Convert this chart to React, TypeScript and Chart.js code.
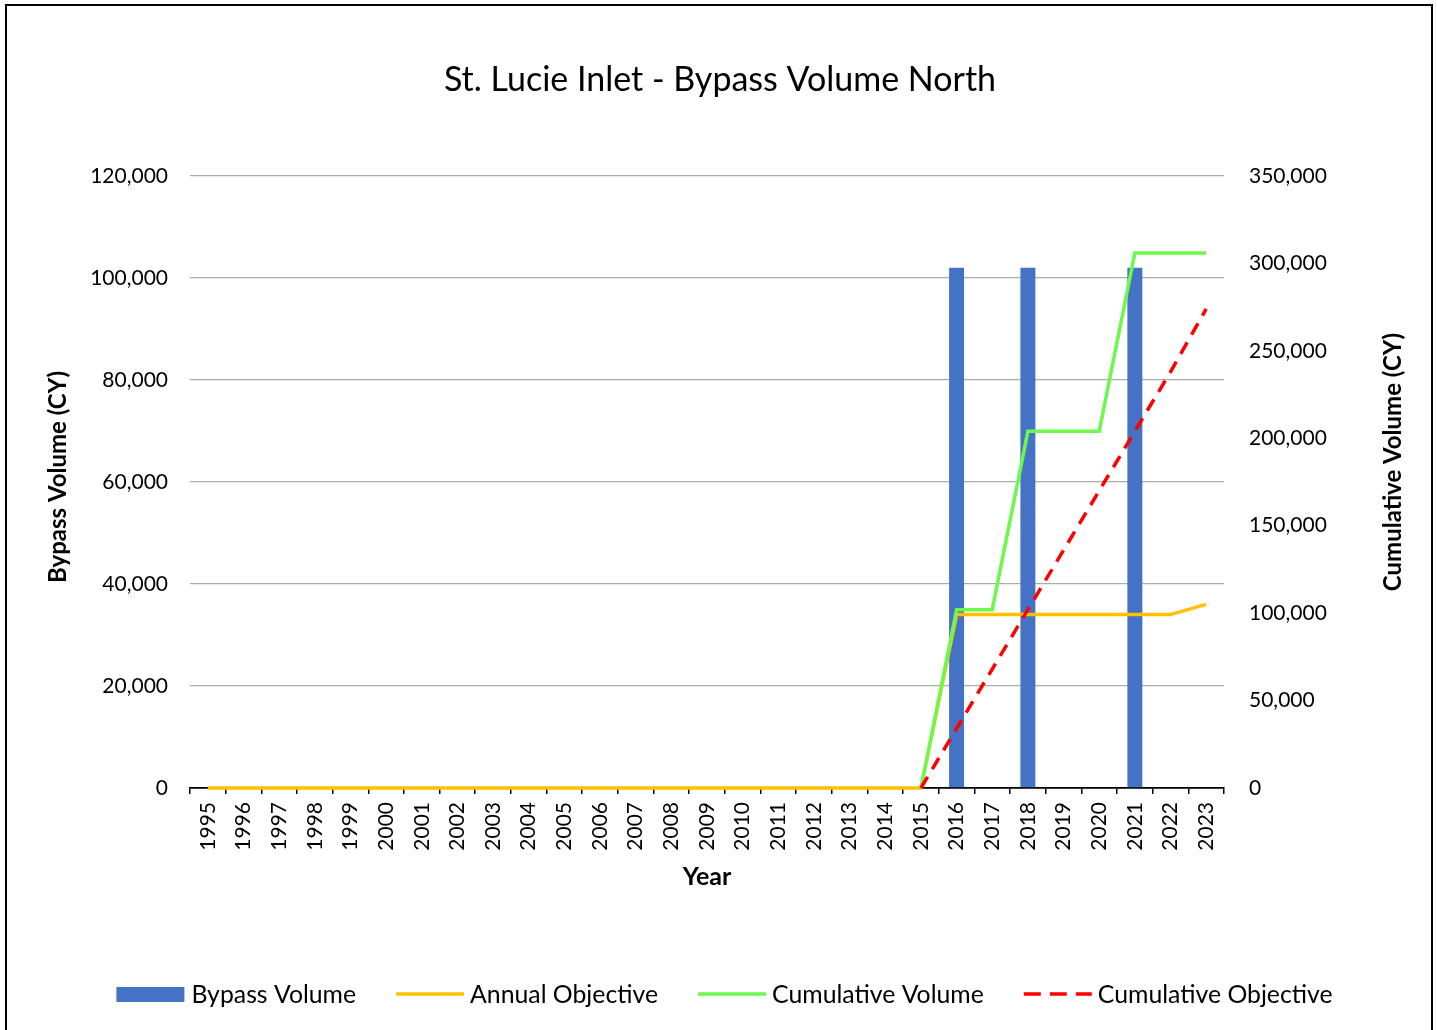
import React, { useEffect, useRef } from "react";
import { Chart, registerables } from "chart.js";

Chart.register(...registerables);

const years = [
  "1995", "1996", "1997", "1998", "1999", "2000", "2001", "2002", "2003", "2004",
  "2005", "2006", "2007", "2008", "2009", "2010", "2011", "2012", "2013", "2014",
  "2015", "2016", "2017", "2018", "2019", "2020", "2021", "2022", "2023",
];

const bypassVolume = [
  0, 0, 0, 0, 0, 0, 0, 0, 0, 0,
  0, 0, 0, 0, 0, 0, 0, 0, 0, 0,
  0, 102000, 0, 102000, 0, 0, 102000, 0, 0,
];

const annualObjective = [
  0, 0, 0, 0, 0, 0, 0, 0, 0, 0,
  0, 0, 0, 0, 0, 0, 0, 0, 0, 0,
  0, 34000, 34000, 34000, 34000, 34000, 34000, 34000, 36000,
];

const cumulativeVolume = [
  null, null, null, null, null, null, null, null, null, null,
  null, null, null, null, null, null, null, null, null, null,
  0, 102000, 102000, 204000, 204000, 204000, 306000, 306000, 306000,
];

const cumulativeObjective = [
  null, null, null, null, null, null, null, null, null, null,
  null, null, null, null, null, null, null, null, null, null,
  0, 34000, 68000, 102000, 136000, 170000, 204000, 238000, 274000,
];

const leftAxisMax = 120000;
const leftAxisStep = 20000;
const rightAxisMax = 350000;
const rightAxisStep = 50000;

const chartTitle = "St. Lucie Inlet - Bypass Volume North";
const leftTitle = "Bypass Volume (CY)";
const rightTitle = "Cumulative Volume (CY)";
const xTitle = "Year";

const FONT = "Lato, 'Open Sans', sans-serif";
const C_BAR = "#4472C4";
const C_ANNUAL = "#FFC000";
const C_CUMVOL = "#6CF94B";
const C_CUMOBJ = "#FF0000";

const legendItems = [
  { label: "Bypass Volume", kind: "bar", color: C_BAR },
  { label: "Annual Objective", kind: "line", color: C_ANNUAL },
  { label: "Cumulative Volume", kind: "line", color: C_CUMVOL },
  { label: "Cumulative Objective", kind: "dash", color: C_CUMOBJ },
];

const fmt = (v: number) => v.toLocaleString("en-US");

const decorPlugin = {
  id: "decor",
  beforeDraw(chart: any) {
    const ctx = chart.ctx;
    ctx.save();
    ctx.fillStyle = "#ffffff";
    ctx.fillRect(0, 0, chart.width, chart.height);
    ctx.restore();
  },
  afterDraw(chart: any) {
    const ctx = chart.ctx;
    ctx.save();
    // outer border
    ctx.strokeStyle = "#000";
    ctx.lineWidth = 2;
    ctx.strokeRect(6, 5, 1426, 1030);

    ctx.fillStyle = "#000";
    ctx.textAlign = "center";
    ctx.textBaseline = "middle";
    // title
    ctx.font = `34px ${FONT}`;
    ctx.fillText(chartTitle, 720, 80);

    // axis titles
    ctx.font = `bold 25px ${FONT}`;
    ctx.fillText(xTitle, 707, 877);

    ctx.font = `bold 24px ${FONT}`;
    ctx.save();
    ctx.translate(58, 477);
    ctx.rotate(-Math.PI / 2);
    ctx.fillText(leftTitle, 0, 0);
    ctx.restore();

    ctx.save();
    ctx.translate(1393, 462);
    ctx.rotate(-Math.PI / 2);
    ctx.fillText(rightTitle, 0, 0);
    ctx.restore();

    // legend
    ctx.font = `24.8px ${FONT}`;
    const swatchW = 68;
    const textGap = 7;
    const itemGap = 39;
    const widths = legendItems.map((it) => ctx.measureText(it.label).width);
    const total =
      widths.reduce((a, b) => a + b, 0) + legendItems.length * (swatchW + textGap) + itemGap * (legendItems.length - 1);
    let x = 724.5 - total / 2;
    const y = 994;
    ctx.textAlign = "left";
    legendItems.forEach((it, i) => {
      if (it.kind === "bar") {
        ctx.fillStyle = it.color;
        ctx.fillRect(x, y - 7, swatchW, 15);
      } else {
        ctx.strokeStyle = it.color;
        ctx.lineWidth = 3.5;
        ctx.setLineDash(it.kind === "dash" ? [17, 9] : []);
        ctx.beginPath();
        ctx.moveTo(x + 1, y);
        ctx.lineTo(x + swatchW + 1, y);
        ctx.stroke();
        ctx.setLineDash([]);
      }
      ctx.fillStyle = "#000";
      ctx.fillText(it.label, x + swatchW + textGap, y + 1);
      x += swatchW + textGap + widths[i] + itemGap;
    });
    ctx.restore();
  },
};

export default function App() {
  const canvasRef = useRef<HTMLCanvasElement | null>(null);

  useEffect(() => {
    const canvas = canvasRef.current;
    if (!canvas) return;
    const chart = new Chart(canvas, {
      type: "bar",
      data: {
        labels: years,
        datasets: [
          {
            type: "bar",
            label: "Bypass Volume",
            data: bypassVolume,
            backgroundColor: C_BAR,
            borderWidth: 0,
            yAxisID: "y",
            categoryPercentage: 1,
            barPercentage: 0.42,
            order: 4,
          },
          {
            type: "line",
            label: "Annual Objective",
            data: annualObjective,
            borderColor: C_ANNUAL,
            backgroundColor: C_ANNUAL,
            borderWidth: 3.5,
            pointRadius: 0,
            tension: 0,
            clip: false,
            yAxisID: "y",
            order: 3,
          },
          {
            type: "line",
            label: "Cumulative Volume",
            data: cumulativeVolume,
            borderColor: C_CUMVOL,
            backgroundColor: C_CUMVOL,
            borderWidth: 3.5,
            pointRadius: 0,
            tension: 0,
            clip: false,
            yAxisID: "y1",
            order: 2,
          },
          {
            type: "line",
            label: "Cumulative Objective",
            data: cumulativeObjective,
            borderColor: C_CUMOBJ,
            backgroundColor: C_CUMOBJ,
            borderWidth: 3.5,
            borderDash: [13, 9],
            pointRadius: 0,
            tension: 0,
            clip: false,
            yAxisID: "y1",
            order: 1,
          },
        ] as any,
      },
      options: {
        responsive: false,
        animation: false,
        layout: { padding: { top: 176, left: 0, right: 0, bottom: 0 } },
        plugins: {
          legend: { display: false },
          title: { display: false },
          tooltip: { enabled: false },
        },
        scales: {
          x: {
            type: "category",
            offset: true,
            grid: {
              display: true,
              drawOnChartArea: false,
              drawTicks: true,
              tickLength: 6,
              color: "#000",
              lineWidth: 1.5,
              offset: true,
            },
            border: { display: true, color: "#000", width: 1.8 },
            ticks: {
              minRotation: 90,
              maxRotation: 90,
              autoSkip: false,
              padding: 8,
              color: "#000",
              font: { family: FONT, size: 21 },
            },
            afterFit: (s: any) => {
              s.height = 242;
            },
          },
          y: {
            type: "linear",
            position: "left",
            min: 0,
            max: leftAxisMax,
            ticks: {
              stepSize: leftAxisStep,
              padding: 22,
              color: "#000",
              font: { family: FONT, size: 21 },
              callback: (v: any) => fmt(Number(v)),
            },
            grid: { display: true, drawTicks: false, color: "#ababab", lineWidth: 1.3 },
            border: { display: false },
            afterFit: (s: any) => {
              s.width = 190;
            },
          },
          y1: {
            type: "linear",
            position: "right",
            min: 0,
            max: rightAxisMax,
            ticks: {
              stepSize: rightAxisStep,
              padding: 25,
              color: "#000",
              font: { family: FONT, size: 21 },
              callback: (v: any) => fmt(Number(v)),
            },
            grid: { display: false, drawTicks: false },
            border: { display: false },
            afterFit: (s: any) => {
              s.width = 213;
            },
          },
        },
      } as any,
      plugins: [decorPlugin],
    });
    return () => chart.destroy();
  }, []);

  return (
    <div style={{ position: "fixed", left: 0, top: 0, width: 1437, height: 1030, background: "#fff" }}>
      <canvas ref={canvasRef} width={1437} height={1030} style={{ display: "block" }} />
    </div>
  );
}
